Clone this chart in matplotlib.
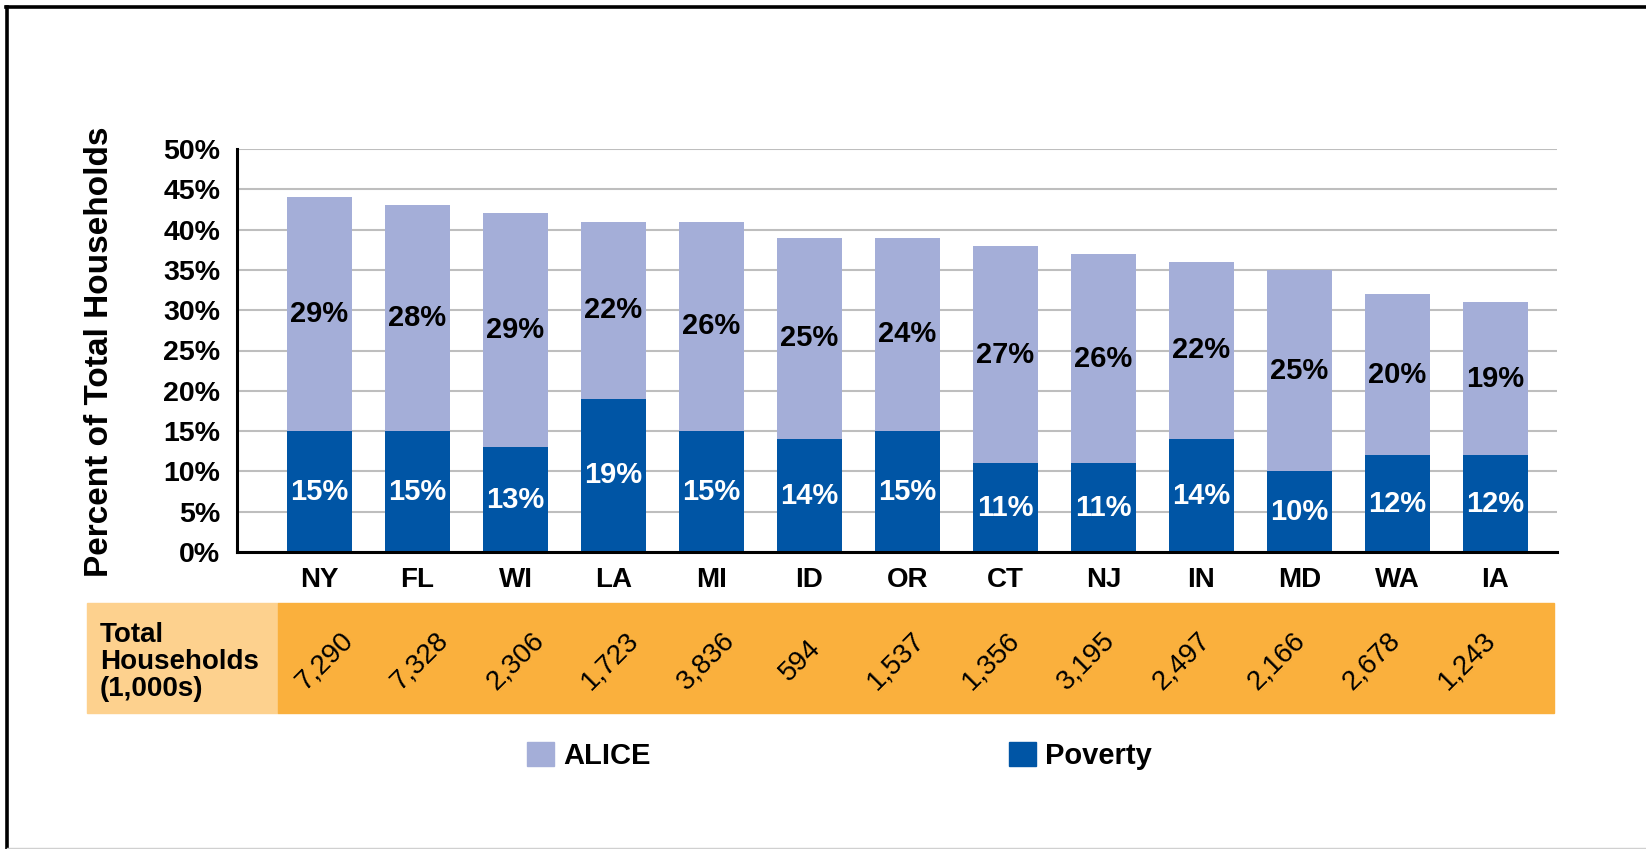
import matplotlib

matplotlib.use("Agg")
import matplotlib.pyplot as plt
from matplotlib.lines import Line2D
from matplotlib.patches import Patch, Rectangle

plt.rcParams["font.family"] = ["Liberation Sans", "DejaVu Sans"]

# Data
states = ["NY", "FL", "WI", "LA", "MI", "ID", "OR", "CT", "NJ", "IN", "MD", "WA", "IA"]
poverty = [15, 15, 13, 19, 15, 14, 15, 11, 11, 14, 10, 12, 12]
alice = [29, 28, 29, 22, 26, 25, 24, 27, 26, 22, 25, 20, 19]
households = ["7,290", "7,328", "2,306", "1,723", "3,836", "594", "1,537",
              "1,356", "3,195", "2,497", "2,166", "2,678", "1,243"]

C_ALICE = "#A4AED8"
C_POV = "#0055A5"
C_TBL_DARK = "#FAB03D"
C_TBL_LIGHT = "#FDD18E"
C_GRID = "#BEBEBE"

W, H = 1646, 849
fig = plt.figure(figsize=(W / 100, H / 100), dpi=100)


def fx(px):
    return px / W


def fy(py):
    return 1 - py / H


# main axes: 0% at y=552px, 50% at y=149px, x from 237 to 1557px
ax = fig.add_axes([fx(237), fy(552), fx(1557 - 237), (552 - 149) / H])
x = list(range(len(states)))
ax.bar(x, poverty, width=0.663, color=C_POV, zorder=3)
ax.bar(x, alice, bottom=poverty, width=0.663, color=C_ALICE, zorder=3)
ax.set_xlim(-0.842, 12.628)
ax.set_ylim(0, 50)
ax.set_yticks(range(0, 51, 5))
ax.set_yticklabels([f"{v}%" for v in range(0, 51, 5)])
ax.set_xticks(x)
ax.set_xticklabels(states)
ax.tick_params(axis="y", length=0, pad=12, labelsize=20.5)
ax.tick_params(axis="x", length=0, pad=11, labelsize=20)
for lab in ax.get_xticklabels() + ax.get_yticklabels():
    lab.set_fontweight("bold")
ax.grid(axis="y", color=C_GRID, lw=1.5, zorder=0)
for side in ("top", "right"):
    ax.spines[side].set_visible(False)
for side in ("left", "bottom"):
    ax.spines[side].set_linewidth(2.2)
    ax.spines[side].set_zorder(4)

for i in x:
    ax.text(i, poverty[i] / 2, f"{poverty[i]}%", ha="center", va="center",
            color="white", fontsize=21, fontweight="bold", zorder=5)
    ax.text(i, poverty[i] + alice[i] / 2, f"{alice[i]}%", ha="center",
            va="center", color="black", fontsize=21, fontweight="bold", zorder=5)

fig.text(fx(100), fy(352), "Percent of Total Households", rotation=90,
         ha="center", va="center", fontsize=24, fontweight="bold")

# households table strip
fig.patches.append(Rectangle((fx(87), fy(713)), fx(278 - 87), (713 - 603) / H,
                             transform=fig.transFigure, color=C_TBL_LIGHT, zorder=0))
fig.patches.append(Rectangle((fx(278), fy(713)), fx(1554 - 278), (713 - 603) / H,
                             transform=fig.transFigure, color=C_TBL_DARK, zorder=0))
axt = fig.add_axes([fx(237), fy(713), fx(1557 - 237), (713 - 603) / H], zorder=2)
axt.set_xlim(-0.924, 12.945)
axt.set_ylim(0, 1)
axt.axis("off")
for i in x:
    axt.text(i, 0.473, households[i], rotation=45, ha="center",
             va="center", fontsize=20, rotation_mode="anchor")
fig.text(fx(100), fy(662), "Total\nHouseholds\n(1,000s)", ha="left",
         va="center", fontsize=20, fontweight="bold", linespacing=1.05,
         zorder=3)

# legend
handles = [Patch(color=C_ALICE, label="ALICE"), Patch(color=C_POV, label="Poverty")]
leg = fig.legend(handles=handles, loc="center left",
                 bbox_to_anchor=(fx(527), fy(756)), ncol=2, frameon=False,
                 borderpad=0, borderaxespad=0, handlelength=0.92,
                 handleheight=0.92, handletextpad=0.31, columnspacing=12.3,
                 prop={"size": 21, "weight": "bold"})

# outer frame (left and top black, bottom light)
fig.add_artist(Line2D([fx(7), fx(7)], [0, fy(6.5)], color="black", lw=2.6))
fig.add_artist(Line2D([fx(6), 1], [fy(6.5), fy(6.5)], color="black", lw=2.6))
fig.add_artist(Line2D([fx(7), 1], [fy(848), fy(848)], color="#D0D0D0", lw=1))

fig.savefig("out.png", dpi=100)
